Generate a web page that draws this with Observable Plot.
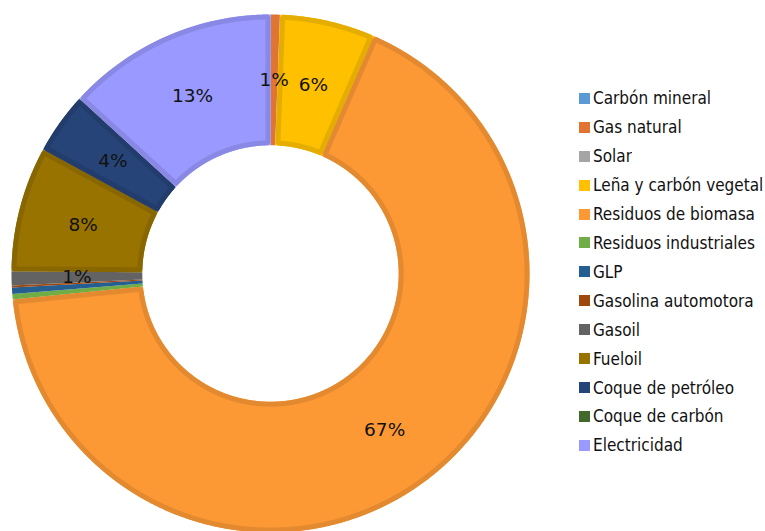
<!DOCTYPE html>
<html><head><meta charset="utf-8">
<script src="https://cdn.jsdelivr.net/npm/d3@7"></script>
<script src="https://cdn.jsdelivr.net/npm/@observablehq/plot@0.6"></script>
<style>
body{margin:0;background:#fff;}
#wrap{position:relative;width:765px;height:531px;overflow:hidden;font-family:"DejaVu Sans Condensed","Liberation Sans",sans-serif;}
#chart svg{display:block;}
#legend{position:absolute;left:579px;top:84px;}
#legend .lg-swatches{font-family:"DejaVu Sans Condensed","Liberation Sans",sans-serif;font-size:17px;color:#111;margin:0;}
#legend .lg-swatch{height:28.92px;padding:0;display:flex;align-items:center;}
#legend .lg-swatch > svg{margin-right:3px;}
</style></head>
<body><div id="wrap"><div id="chart"></div><div id="legend"></div></div>
<script>
const categories = ["Carbón mineral","Gas natural","Solar","Leña y carbón vegetal","Residuos de biomasa","Residuos industriales","GLP","Gasolina automotora","Gasoil","Fueloil","Coque de petróleo","Coque de carbón","Electricidad"];
const values = [0.03, 0.55, 0.02, 5.93, 66.85, 0.35, 0.4, 0.12, 0.88, 7.8, 3.83, 0.02, 13.2];
const colors = ["#5b9bd5","#e07430","#a5a5a5","#ffc000","#fd9935","#70ad47","#255e91","#9e480e","#636363","#997300","#264478","#43682b","#9999ff"];

const W = 765, H = 531, CX = 270, CY = 273, K = 259;
const RIN = 0.495, RMID = (1 + RIN) / 2, BORDER = 5 / K;

const total = d3.sum(values);
const pie = d3.pie().sort(null).value(d => d.value).startAngle(0).endAngle(2 * Math.PI);
const arcs = pie(categories.map((c, i) => ({category: c, value: values[i], color: colors[i]})));

function ring(a0, a1, r0, r1, d) {
  const ro = r1 - d, ri = r0 + d;
  const oo = Math.asin(Math.min(1, d / ro)), oi = Math.asin(Math.min(1, d / ri));
  const pts = [];
  const n = Math.max(2, Math.ceil((a1 - a0) / 0.005));
  for (let j = 0; j <= n; j++) { const a = a0 + oo + (a1 - a0 - 2 * oo) * j / n; pts.push([ro * Math.sin(a), -ro * Math.cos(a)]); }
  for (let j = n; j >= 0; j--) { const a = a0 + oi + (a1 - a0 - 2 * oi) * j / n; pts.push([ri * Math.sin(a), -ri * Math.cos(a)]); }
  pts.push(pts[0]);
  return {type: "Polygon", coordinates: [pts]};
}

const slices = arcs.map(a => ({
  category: a.data.category,
  value: a.data.value,
  pct: a.data.value / total * 100,
  edge: d3.rgb(a.data.color).darker(0.3).formatHex(),
  mid: (a.startAngle + a.endAngle) / 2,
  geometry: ring(a.startAngle, a.endAngle, RIN, 1, 0),
  border: ring(a.startAngle, a.endAngle, RIN, 1, BORDER / 2)
}));

const chart = Plot.plot({
  width: W, height: H,
  marginTop: 0, marginRight: 0, marginBottom: 0, marginLeft: 0,
  projection: {type: "identity", domain: {type: "LineString", coordinates: [[-CX / K, -CY / K], [(W - CX) / K, (H - CY) / K]]}},
  color: {domain: categories, range: colors, type: "ordinal"},
  style: {fontFamily: '"DejaVu Sans",sans-serif', background: "#fff"},
  marks: [
    Plot.geo(slices, {geometry: d => d.geometry, fill: d => d.category}),
    Plot.geo(slices.filter(d => d.pct >= 2), {geometry: d => d.border, fill: "none", stroke: d => d.edge, strokeWidth: 5, strokeLinejoin: "miter"}),
    Plot.text(slices.filter(d => Math.round(d.pct) >= 1), {
      x: d => RMID * Math.sin(d.mid), y: d => -RMID * Math.cos(d.mid),
      text: d => `${Math.round(d.pct)}%`, fontSize: 18.5, fontFamily: '"DejaVu Sans",sans-serif', fill: "#111"
    })
  ]
});
document.getElementById("chart").appendChild(chart);

const legend = Plot.legend({color: {domain: categories, range: colors, type: "ordinal"}, columns: 1, swatchSize: 11, className: "lg"});
document.getElementById("legend").appendChild(legend);
</script>
</body></html>
